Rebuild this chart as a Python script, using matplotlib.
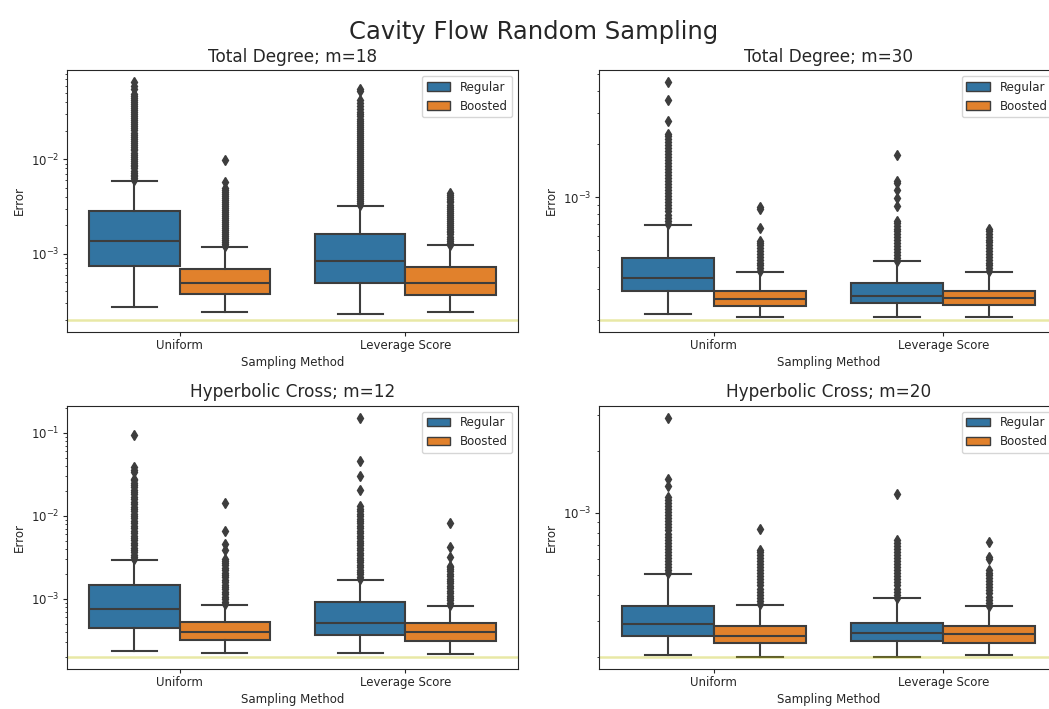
import matplotlib
matplotlib.use("Agg")
import matplotlib.pyplot as plt
from matplotlib.patches import Patch

# ---------------- data ----------------
categories = ["Uniform", "Leverage Score"]
hues = ["Regular", "Boosted"]
titles = ["Total Degree; m=18", "Total Degree; m=30",
          "Hyperbolic Cross; m=12", "Hyperbolic Cross; m=20"]
threshold = 2e-4
E3 = 1e-3  # flier lists below are written in units of 1e-3

# order of boxes in each panel: Uniform/Regular, Uniform/Boosted, Leverage/Regular, Leverage/Boosted
td18_whislo = [2.72e-4, 2.43e-4, 2.28e-4, 2.43e-4]
td18_q1 = [7.43e-4, 3.72e-4, 4.92e-4, 3.62e-4]
td18_med = [1.37e-3, 4.92e-4, 8.38e-4, 4.92e-4]
td18_q3 = [2.81e-3, 6.96e-4, 1.61e-3, 7.25e-4]
td18_whishi = [5.83e-3, 1.19e-3, 3.24e-3, 1.23e-3]
td18_fliers = [
    [6.0, 6.3, 6.6, 6.9, 7.2, 7.6, 8.0, 8.4, 8.8, 9.2, 9.7, 10.2, 10.7, 11.2, 11.8, 12.4,
     13.0, 13.6, 14.3, 15.0, 15.8, 16.6, 17.4, 18.3, 19.2, 20.2, 21.2, 22.3, 23.4, 24.6,
     25.8, 27.1, 28.5, 30.0, 31.5, 33.0, 34.7, 36.4, 38.2, 40.1, 42.1, 44.2, 46.4, 48.7,
     55.0, 60.0, 66.0],
    [1.22, 1.28, 1.34, 1.41, 1.48, 1.55, 1.63, 1.71, 1.80, 1.89, 1.98, 2.08, 2.18, 2.29,
     2.40, 2.52, 2.65, 2.78, 2.92, 3.07, 3.22, 3.38, 3.55, 3.73, 3.92, 4.1, 4.3, 4.5, 4.7,
     5.0, 5.8, 9.8],
    [3.3, 3.45, 3.6, 3.8, 4.0, 4.2, 4.4, 4.6, 4.85, 5.1, 5.35, 5.6, 5.9, 6.2, 6.5, 6.8,
     7.15, 7.5, 7.9, 8.3, 8.7, 9.1, 9.6, 10.1, 10.6, 11.1, 11.7, 12.3, 12.9, 13.5, 14.2,
     14.9, 15.7, 16.5, 17.3, 18.2, 19.1, 20.0, 21.0, 22.1, 23.2, 24.4, 25.6, 27.0, 28.5,
     30.0, 32.0, 34.0, 36.5, 39.0, 42.0, 53.0, 56.0],
    [1.25, 1.31, 1.38, 1.45, 1.52, 1.6, 1.68, 1.76, 1.85, 1.94, 2.04, 2.14, 2.25, 2.36,
     2.48, 2.6, 2.73, 2.87, 3.01, 3.16, 3.32, 3.49, 3.66, 3.84, 4.03, 4.2, 4.37],
]

td30_whislo = [2.15e-4, 2.07e-4, 2.07e-4, 2.07e-4]
td30_q1 = [2.90e-4, 2.40e-4, 2.48e-4, 2.44e-4]
td30_med = [3.48e-4, 2.63e-4, 2.75e-4, 2.65e-4]
td30_q3 = [4.50e-4, 2.92e-4, 3.24e-4, 2.92e-4]
td30_whishi = [6.98e-4, 3.74e-4, 4.31e-4, 3.74e-4]
td30_fliers = [
    [0.705, 0.735, 0.765, 0.795, 0.83, 0.865, 0.9, 0.935, 0.975, 1.015, 1.055, 1.1, 1.145,
     1.19, 1.24, 1.29, 1.34, 1.395, 1.45, 1.51, 1.57, 1.635, 1.7, 1.77, 1.84, 1.915, 1.99,
     2.07, 2.15, 2.23, 2.3, 2.71, 3.55, 4.53],
    [0.378, 0.393, 0.408, 0.424, 0.44, 0.457, 0.475, 0.493, 0.512, 0.532, 0.55, 0.565,
     0.667, 0.86, 0.875],
    [0.435, 0.452, 0.47, 0.488, 0.507, 0.527, 0.547, 0.568, 0.59, 0.613, 0.637, 0.66,
     0.685, 0.71, 0.735, 0.888, 0.987, 1.10, 1.20, 1.24, 1.73],
    [0.378, 0.393, 0.408, 0.424, 0.44, 0.457, 0.475, 0.493, 0.512, 0.532, 0.552, 0.573,
     0.595, 0.618, 0.64, 0.659],
]

hc12_whislo = [2.35e-4, 2.23e-4, 2.23e-4, 2.15e-4]
hc12_q1 = [4.51e-4, 3.20e-4, 3.71e-4, 3.08e-4]
hc12_med = [7.5e-4, 3.96e-4, 5.18e-4, 3.96e-4]
hc12_q3 = [1.49e-3, 5.32e-4, 9.12e-4, 5.13e-4]
hc12_whishi = [2.93e-3, 8.55e-4, 1.69e-3, 8.31e-4]
hc12_fliers = [
    [3.0, 3.2, 3.4, 3.65, 3.9, 4.15, 4.45, 4.75, 5.1, 5.45, 5.8, 6.2, 6.65, 7.1, 7.6, 8.1,
     8.7, 9.3, 9.9, 10.6, 11.3, 12.1, 12.9, 13.8, 14.8, 15.8, 16.9, 18.1, 19.3, 20.6, 22.0,
     23.5, 25.2, 27.0, 28.0, 34.0, 36.0, 39.0, 94.0],
    [0.87, 0.93, 1.0, 1.07, 1.14, 1.22, 1.3, 1.39, 1.49, 1.59, 1.7, 1.82, 1.95, 2.08, 2.23,
     2.38, 2.55, 2.72, 2.9, 3.04, 3.84, 4.6, 6.5, 14.3],
    [1.72, 1.84, 1.97, 2.1, 2.25, 2.4, 2.57, 2.75, 2.94, 3.15, 3.37, 3.6, 3.85, 4.12, 4.4,
     4.7, 5.0, 5.4, 5.8, 6.2, 6.6, 7.05, 7.55, 8.1, 8.65, 9.25, 9.9, 10.6, 11.3, 12.1, 13.0,
     20.3, 30.0, 46.0, 152.0],
    [0.84, 0.9, 0.96, 1.03, 1.1, 1.18, 1.26, 1.35, 1.44, 1.54, 1.65, 1.76, 1.88, 2.01, 2.15,
     2.3, 2.45, 2.52, 3.18, 4.2, 8.2],
]

hc20_whislo = [2.04e-4, 2.01e-4, 2.01e-4, 2.04e-4]
hc20_q1 = [2.54e-4, 2.33e-4, 2.40e-4, 2.33e-4]
hc20_med = [2.88e-4, 2.54e-4, 2.62e-4, 2.58e-4]
hc20_q3 = [3.52e-4, 2.82e-4, 2.94e-4, 2.82e-4]
hc20_whishi = [5.06e-4, 3.59e-4, 3.85e-4, 3.52e-4]
hc20_fliers = [
    [0.51, 0.528, 0.546, 0.565, 0.585, 0.605, 0.626, 0.648, 0.67, 0.693, 0.717, 0.742,
     0.768, 0.795, 0.823, 0.852, 0.882, 0.913, 0.945, 0.978, 1.012, 1.047, 1.083, 1.12,
     1.155, 1.19, 1.35, 1.46, 2.9],
    [0.362, 0.375, 0.388, 0.401, 0.415, 0.43, 0.445, 0.46, 0.476, 0.493, 0.51, 0.528,
     0.546, 0.565, 0.585, 0.605, 0.626, 0.645, 0.661, 0.84],
    [0.388, 0.401, 0.415, 0.43, 0.445, 0.46, 0.476, 0.493, 0.51, 0.528, 0.546, 0.565,
     0.585, 0.605, 0.626, 0.648, 0.67, 0.693, 0.717, 0.74, 1.24],
    [0.355, 0.367, 0.38, 0.393, 0.407, 0.421, 0.436, 0.451, 0.467, 0.483, 0.5, 0.514,
     0.527, 0.595, 0.614, 0.721],
]

panels = [
    (td18_whislo, td18_q1, td18_med, td18_q3, td18_whishi, td18_fliers),
    (td30_whislo, td30_q1, td30_med, td30_q3, td30_whishi, td30_fliers),
    (hc12_whislo, hc12_q1, hc12_med, hc12_q3, hc12_whishi, hc12_fliers),
    (hc20_whislo, hc20_q1, hc20_med, hc20_q3, hc20_whishi, hc20_fliers),
]

# ---------------- style ----------------
hue_colors = ["#3274a1", "#e1812c"]
gray = "#3d3d3d"
textc = "#262626"
plt.rcParams["font.family"] = ["DejaVu Sans"]
plt.rcParams["text.color"] = textc
plt.rcParams["axes.labelcolor"] = textc
plt.rcParams["xtick.color"] = textc
plt.rcParams["ytick.color"] = textc
plt.rcParams["axes.edgecolor"] = textc

W, H = 1049, 709
fig = plt.figure(figsize=(W / 100, H / 100), dpi=100)

# axes rectangles in pixels: left, top, width, height
rects = [(66.7, 70, 451.5, 261.7), (599, 70, 459, 261.7),
         (66.7, 405.7, 451.5, 263.3), (599, 405.7, 459, 263.3)]

offsets = [-0.2, 0.2]
for k, (rect, data, title) in enumerate(zip(rects, panels, titles)):
    l, t, w, h = rect
    ax = fig.add_axes([l / W, 1 - (t + h) / H, w / W, h / H])
    whislo, q1, med, q3, whishi, fliers = data
    for ci in range(len(categories)):
        for hi in range(len(hues)):
            i = ci * 2 + hi
            st = dict(whislo=whislo[i], q1=q1[i], med=med[i], q3=q3[i],
                      whishi=whishi[i], fliers=[v * E3 for v in fliers[i]])
            ax.bxp([st], positions=[ci + offsets[hi]], widths=[0.4],
                   patch_artist=True, showfliers=True,
                   boxprops=dict(facecolor=hue_colors[hi], edgecolor=gray, linewidth=1.5),
                   medianprops=dict(color=gray, linewidth=1.5),
                   whiskerprops=dict(color=gray, linewidth=1.5),
                   capprops=dict(color=gray, linewidth=1.5),
                   capwidths=[0.2],
                   flierprops=dict(marker="d", markersize=5, markerfacecolor=gray,
                                   markeredgecolor=gray, linestyle="none"),
                   manage_ticks=False)
    ax.axhline(threshold, color="y", alpha=0.35, linewidth=1.8)
    ax.set_yscale("log")
    ax.set_xlim(-0.5, 1.5)
    ax.set_xticks(range(len(categories)))
    ax.set_xticklabels(categories)
    ax.tick_params(which="major", labelsize=8.5, length=2.6, pad=2.6)
    ax.tick_params(which="minor", length=1.6)
    ax.set_xlabel("Sampling Method", fontsize=8.5, labelpad=3)
    ax.set_ylabel("Error", fontsize=8.5)
    ax.set_title(title, fontsize=12.2)
    handles = [Patch(facecolor=c, edgecolor=gray, label=lab) for c, lab in zip(hue_colors, hues)]
    ax.legend(handles=handles, loc="upper right", fontsize=8.5)

fig.suptitle("Cavity Flow Random Sampling", fontsize=17.5, x=0.509, y=0.972)
fig.savefig("out.png", dpi=100)
